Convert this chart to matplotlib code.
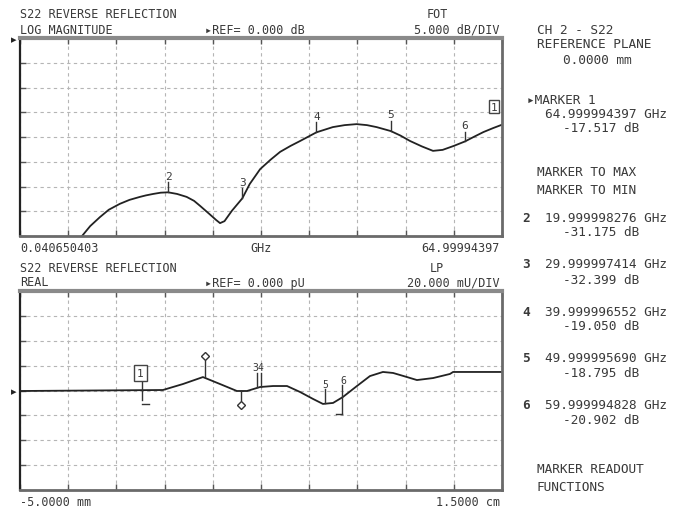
import numpy as np
import matplotlib
matplotlib.use('Agg')
from matplotlib import pyplot as plt

W, H = 696, 510

# upper trace: S22 log magnitude (GHz, dB)
freq_ghz = [8.4, 9.5, 10.8, 12.0, 13.5, 14.8, 16.2, 17.0, 18.0, 19.0, 20.0, 21.2, 22.5, 23.5,
            24.3, 25.6, 26.5, 27.0, 27.6, 28.6, 30.0, 31.0, 32.4, 33.8, 35.1, 36.5, 37.8,
            40.0, 42.2, 43.8, 45.4, 46.8, 48.1, 50.0, 51.3, 52.6, 54.2, 55.7, 57.0, 58.5,
            60.0, 61.3, 62.5, 63.8, 65.0]
mag_db = [-40.0, -38.0, -36.2, -34.7, -33.5, -32.7, -32.1, -31.8, -31.5, -31.25, -31.175, -31.5,
          -32.1, -32.9, -33.9, -35.6, -36.8, -37.4, -37.0, -34.9, -32.399, -29.5, -26.5, -24.6,
          -23.0, -21.8, -20.8, -19.05, -18.0, -17.6, -17.4, -17.6, -18.0, -18.795, -19.7,
          -20.8, -21.9, -22.8, -22.6, -21.8, -20.902, -19.9, -19.0, -18.2, -17.517]

# lower trace: low pass real response (mm, mU)
dist_mm = [-5.0, 0.93, 1.76, 2.59, 3.30, 4.00, 4.42, 4.96, 5.50, 6.08, 6.62, 7.16, 7.57,
           7.99, 8.40, 8.98, 9.52, 10.06, 10.48, 11.06, 11.47, 12.14, 12.84, 12.97, 15.0]
real_mu = [-0.4, 0.4, 5.2, 10.8, 5.2, -0.4, -0.4, 2.8, 3.6, 3.6, -1.2, -6.8, -10.8,
           -10.0, -5.2, 3.6, 11.6, 14.9, 14.1, 10.8, 8.4, 10.0, 13.3, 14.9, 14.9]

# marker readouts
marker_ids = ['1', '2', '3', '4', '5', '6']
marker_freq = ['64.999994397', '19.999998276', '29.999997414', '39.999996552',
               '49.999995690', '59.999994828']
marker_ghz = [65.0, 20.0, 30.0, 40.0, 50.0, 60.0]
marker_db = [-17.517, -31.175, -32.399, -19.050, -18.795, -20.902]

START_GHZ, STOP_GHZ = 0.040650403, 64.999994397
MONO = 'DejaVu Sans Mono'
INK = '#3a3a3a'


def px(x, y):
    return x / W, 1 - y / H


def txt(x, y, s, size=8.5, ha='left', **kw):
    fig.text(*px(x, y), s, fontsize=size, ha=ha, va='center', family=MONO, color=INK, **kw)


def style_axes(ax, xlim, ylim):
    ax.set_xlim(*xlim)
    ax.set_ylim(*ylim)
    xt = np.linspace(xlim[0], xlim[1], 11)
    yt = np.linspace(ylim[0], ylim[1], 9)
    ax.set_xticks(xt)
    ax.set_yticks(yt)
    ax.tick_params(direction='in', length=4, width=1, color='#555',
                   top=True, labelbottom=False, labelleft=False)
    ax.grid(True, color='#b5b5b5', linestyle=(0, (3, 3)), linewidth=0.8)
    for side in ['bottom', 'right']:
        ax.spines[side].set_color('#6a6a6a')
        ax.spines[side].set_linewidth(2)
    ax.spines['top'].set_color('#8a8a8a')
    ax.spines['top'].set_linewidth(3)
    ax.spines['left'].set_color('#222')
    ax.spines['left'].set_linewidth(1.6)


fig = plt.figure(figsize=(W / 100, H / 100), dpi=100)

# upper panel
ax1 = fig.add_axes([20 / W, 1 - 237 / H, 482 / W, 198 / H])
style_axes(ax1, (START_GHZ, STOP_GHZ), (-40, 0))
ax1.plot(freq_ghz, mag_db, color='#222', linewidth=1.3, clip_on=True)
for mid, f, v in zip(marker_ids, marker_ghz, marker_db):
    if mid == '1':
        ax1.annotate('1', (f, v), xytext=(-6, 13), textcoords='offset points',
                     fontsize=8, family=MONO, color=INK, ha='center', va='center',
                     bbox=dict(boxstyle='square,pad=0.15', fc='white', ec='#444', lw=1))
        continue
    ax1.plot([f, f], [v, v + 2.0], color='#333', linewidth=1)
    ax1.annotate(mid, (f, v), xytext=(0, 12), textcoords='offset points',
                 fontsize=8, family=MONO, color=INK, ha='center', va='center')

# lower panel
ax2 = fig.add_axes([20 / W, 1 - 491 / H, 482 / W, 199 / H])
style_axes(ax2, (-5, 15), (-80, 80))
ax2.plot(dist_mm, real_mu, color='#222', linewidth=1.3)
# marker glyphs on the time domain trace
ax2.annotate('1', (0.0, 14), fontsize=8, family=MONO, color=INK, ha='center', va='center',
             bbox=dict(boxstyle='square,pad=0.25', fc='white', ec='#444', lw=1))
ax2.plot([0.05, 0.05], [7, -8], color='#333', linewidth=1)
ax2.plot([0.05, 0.35], [-11, -11], color='#333', linewidth=1)
ax2.plot([2.68, 2.68], [10.8, 24], color='#333', linewidth=1)
ax2.plot([2.68], [27.7], marker='D', ms=4, mfc='white', mec='#333', mew=1)
ax2.plot([4.17, 4.17], [-0.4, -8], color='#333', linewidth=1)
ax2.plot([4.17], [-11.6], marker='D', ms=4, mfc='white', mec='#333', mew=1)
ax2.plot([4.82, 4.82], [3.0, 14], color='#333', linewidth=1)
ax2.plot([4.98, 4.98], [3.0, 14], color='#333', linewidth=1)
ax2.text(4.9, 18.9, '34', fontsize=7, family=MONO, color=INK, ha='center', va='center')
ax2.plot([7.66, 7.66], [1, -10.4], color='#333', linewidth=1)
ax2.text(7.66, 5.2, '5', fontsize=7, family=MONO, color=INK, ha='center', va='center')
ax2.plot([8.36, 8.36], [4.5, -19], color='#333', linewidth=1)
ax2.plot([8.36, 8.1], [-19, -19], color='#333', linewidth=1)
ax2.text(8.4, 8.8, '6', fontsize=7, family=MONO, color=INK, ha='center', va='center')

# reference position arrows
fig.text(*px(14, 40), '\u25b8', fontsize=8, ha='center', va='center', color='#222')
fig.text(*px(14, 392), '\u25b8', fontsize=8, ha='center', va='center', color='#222')

# upper panel headers
txt(20, 15, 'S22 REVERSE REFLECTION')
txt(20, 30, 'LOG MAGNITUDE')
txt(205, 30, '\u25b8REF= 0.000 dB')
txt(437, 15, 'FOT', ha='center')
txt(500, 30, '5.000 dB/DIV', ha='right')
txt(20, 248, '0.040650403')
txt(261, 248, 'GHz', ha='center')
txt(500, 248, '64.99994397', ha='right')

# lower panel headers
txt(20, 268, 'S22 REVERSE REFLECTION')
txt(20, 283, 'REAL')
txt(205, 283, '\u25b8REF= 0.000 pU')
txt(437, 268, 'LP', ha='center')
txt(500, 283, '20.000 mU/DIV', ha='right')
txt(20, 503, '-5.0000 mm')
txt(500, 503, '1.5000 cm', ha='right')

# right hand readout panel
RS = 9.2
txt(537, 30, 'CH 2 - S22', RS)
txt(537, 45, 'REFERENCE PLANE', RS)
txt(563, 61, '0.0000 mm', RS)
txt(527, 100, '\u25b8MARKER 1', RS)
txt(545, 114, marker_freq[0] + ' GHz', RS)
txt(563, 129, '%.3f dB' % marker_db[0], RS)
txt(537, 172, 'MARKER TO MAX', RS)
txt(537, 190, 'MARKER TO MIN', RS)
for i, y0 in zip(range(1, 6), [218, 265, 312, 359, 406]):
    txt(522, y0, marker_ids[i], RS, fontweight='bold')
    txt(545, y0, marker_freq[i] + ' GHz', RS)
    txt(563, y0 + 15, '%.3f dB' % marker_db[i], RS)
txt(537, 470, 'MARKER READOUT', RS)
txt(537, 488, 'FUNCTIONS', RS)

plt.savefig('out.png', dpi=100, facecolor='white')
